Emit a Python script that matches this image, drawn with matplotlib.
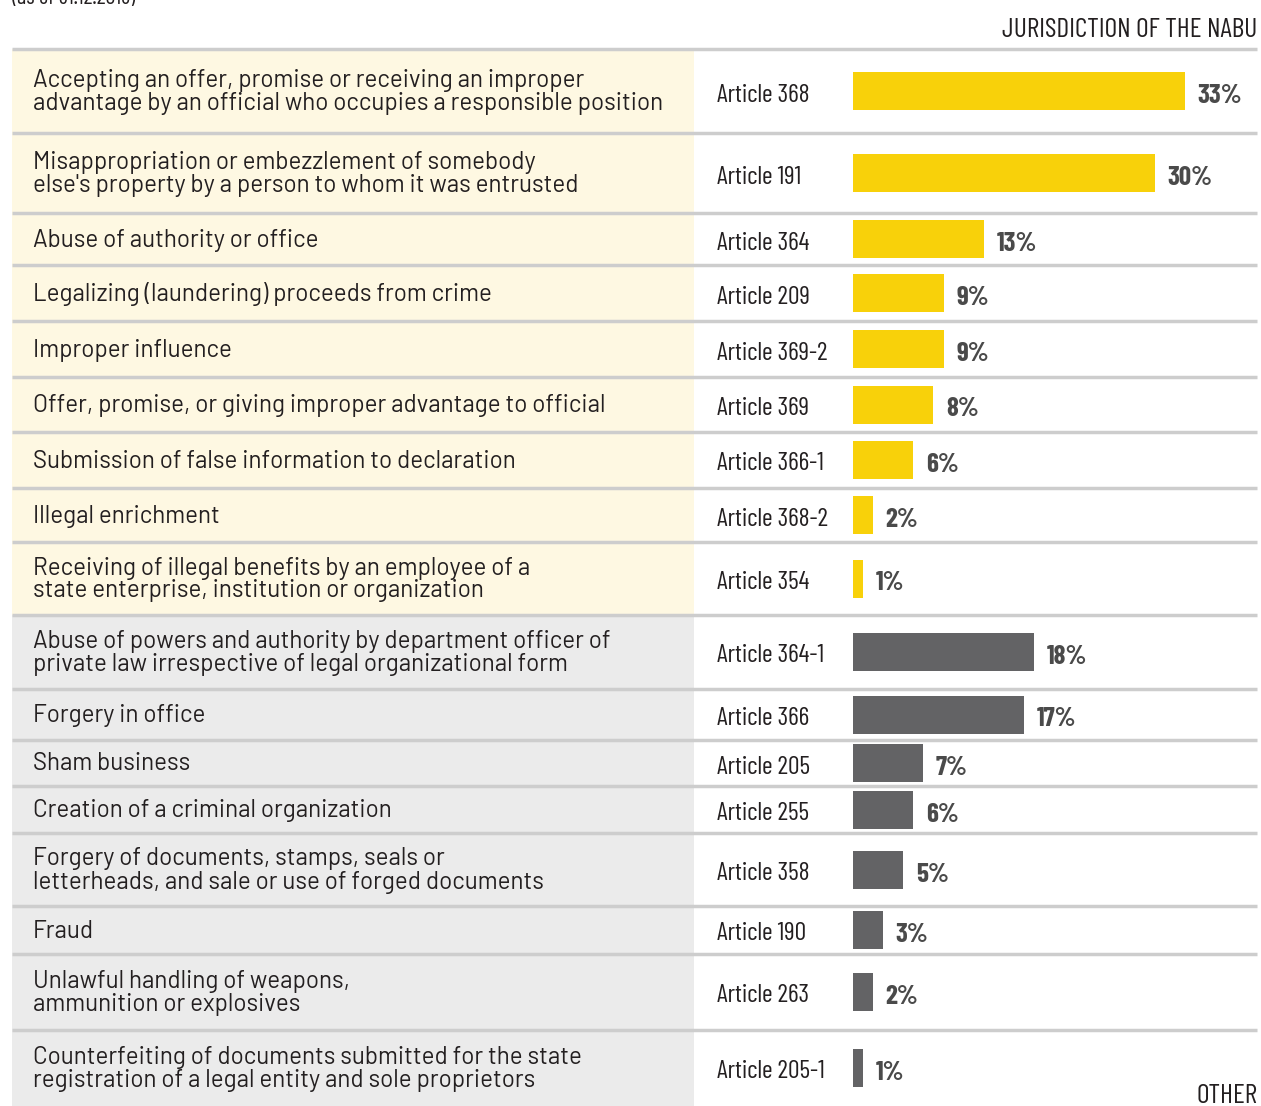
import matplotlib
matplotlib.use("Agg")
import matplotlib.pyplot as plt
from matplotlib.patches import Rectangle
from matplotlib import font_manager as fm

# ---------------- data ----------------
nabu_descriptions = [
    "Accepting an offer, promise or receiving an improper\nadvantage by an official who occupies a responsible position",
    "Misappropriation or embezzlement of somebody\nelse's property by a person to whom it was entrusted",
    "Abuse of authority or office",
    "Legalizing (laundering) proceeds from crime",
    "Improper influence",
    "Offer, promise, or giving improper advantage to official",
    "Submission of false information to declaration",
    "Illegal enrichment",
    "Receiving of illegal benefits by an employee of a\nstate enterprise, institution or organization",
]
nabu_articles = ["Article 368", "Article 191", "Article 364", "Article 209", "Article 369-2",
                 "Article 369", "Article 366-1", "Article 368-2", "Article 354"]
nabu_values = [33, 30, 13, 9, 9, 8, 6, 2, 1]

other_descriptions = [
    "Abuse of powers and authority by department officer of\nprivate law irrespective of legal organizational form",
    "Forgery in office",
    "Sham business",
    "Creation of a criminal organization",
    "Forgery of documents, stamps, seals or\nletterheads, and sale or use of forged documents",
    "Fraud",
    "Unlawful handling of weapons,\nammunition or explosives",
    "Counterfeiting of documents submitted for the state\nregistration of a legal entity and sole proprietors",
]
other_articles = ["Article 364-1", "Article 366", "Article 205", "Article 255", "Article 358",
                  "Article 190", "Article 263", "Article 205-1"]
other_values = [18, 17, 7, 6, 5, 3, 2, 1]

header_top = "JURISDICTION OF THE NABU"
header_bottom = "OTHER"
subtitle = "(as of 31.12.2018)"

# ---------------- fonts ----------------
available = {f.name for f in fm.fontManager.ttflist}
def pick(cands):
    for c in cands:
        if c in available:
            return c
    return "DejaVu Sans"

desc_font = pick(["Barlow", "Roboto", "DejaVu Sans"])
narrow = pick(["Barlow Condensed", "Roboto Condensed", "PT Sans Narrow", "Oswald"])

# ---------------- layout (pixels) ----------------
W, H = 1261, 1106
row_edges = [49, 133, 213, 265, 321, 377, 432, 488, 542, 615, 689, 740, 786, 833, 906, 954, 1030, 1106]

YELLOW = "#F8D10A"
GRAY_BAR = "#636365"
BG_YELLOW = "#FEF8E2"
BG_GRAY = "#EBEBEB"
LINE = "#CDCDCD"
TXT = "#231F20"
PCT = "#4A4A4A"

fig = plt.figure(figsize=(W / 100, H / 100), dpi=100)
bg = fig.add_axes([0, 0, 1, 1])
bg.set_xlim(0, W)
bg.set_ylim(H, 0)
bg.axis("off")

descs = nabu_descriptions + other_descriptions
arts = nabu_articles + other_articles
vals = nabu_values + other_values
n_nabu = len(nabu_values)

centers = []
for i in range(len(descs)):
    y0, y1 = row_edges[i], row_edges[i + 1]
    c = (y0 + y1) / 2
    centers.append(c)
    color = BG_YELLOW if i < n_nabu else BG_GRAY
    bg.add_patch(Rectangle((12, y0), 694 - 12, y1 - y0, facecolor=color, edgecolor="none", zorder=0))
    bg.text(33, c + 1, descs[i], ha="left", va="center", fontsize=17.4,
            color=TXT, family=desc_font, linespacing=1.0, zorder=3)
    bg.text(717, c + 10.5, arts[i], ha="left", va="baseline", fontsize=18.5,
            color=TXT, family=narrow, zorder=3)

for y in row_edges[:-1]:
    bg.plot([12, 1257], [y, y], color=LINE, lw=2.5, solid_capstyle="butt", zorder=2)

bg.text(1257, 37, header_top, ha="right", va="baseline", fontsize=19.8, color=TXT,
        family=narrow)
bg.text(1257, 1103, header_bottom, ha="right", va="baseline", fontsize=19.8, color=TXT,
        family=narrow)
bg.text(12, 4, subtitle, ha="left", va="baseline", fontsize=16, color=TXT, family=narrow)

# ---------------- bars ----------------
left_px = 853
px_per_pct = 10.06
bx = fig.add_axes([left_px / W, 0, (W - left_px) / W, 1])
bx.set_xlim(0, (W - left_px) / px_per_pct)
bx.set_ylim(H, 0)
bx.axis("off")
bx.patch.set_alpha(0)

colors = [YELLOW] * n_nabu + [GRAY_BAR] * (len(vals) - n_nabu)
bx.barh(centers, vals, height=38, color=colors, zorder=3)
for c, v in zip(centers, vals):
    bx.text(v + 1.25, c + 12, f"{v}%", ha="left", va="baseline", fontsize=19.5,
            fontweight="bold", color=PCT, family=narrow, zorder=4)

fig.savefig("out.png", dpi=100)
